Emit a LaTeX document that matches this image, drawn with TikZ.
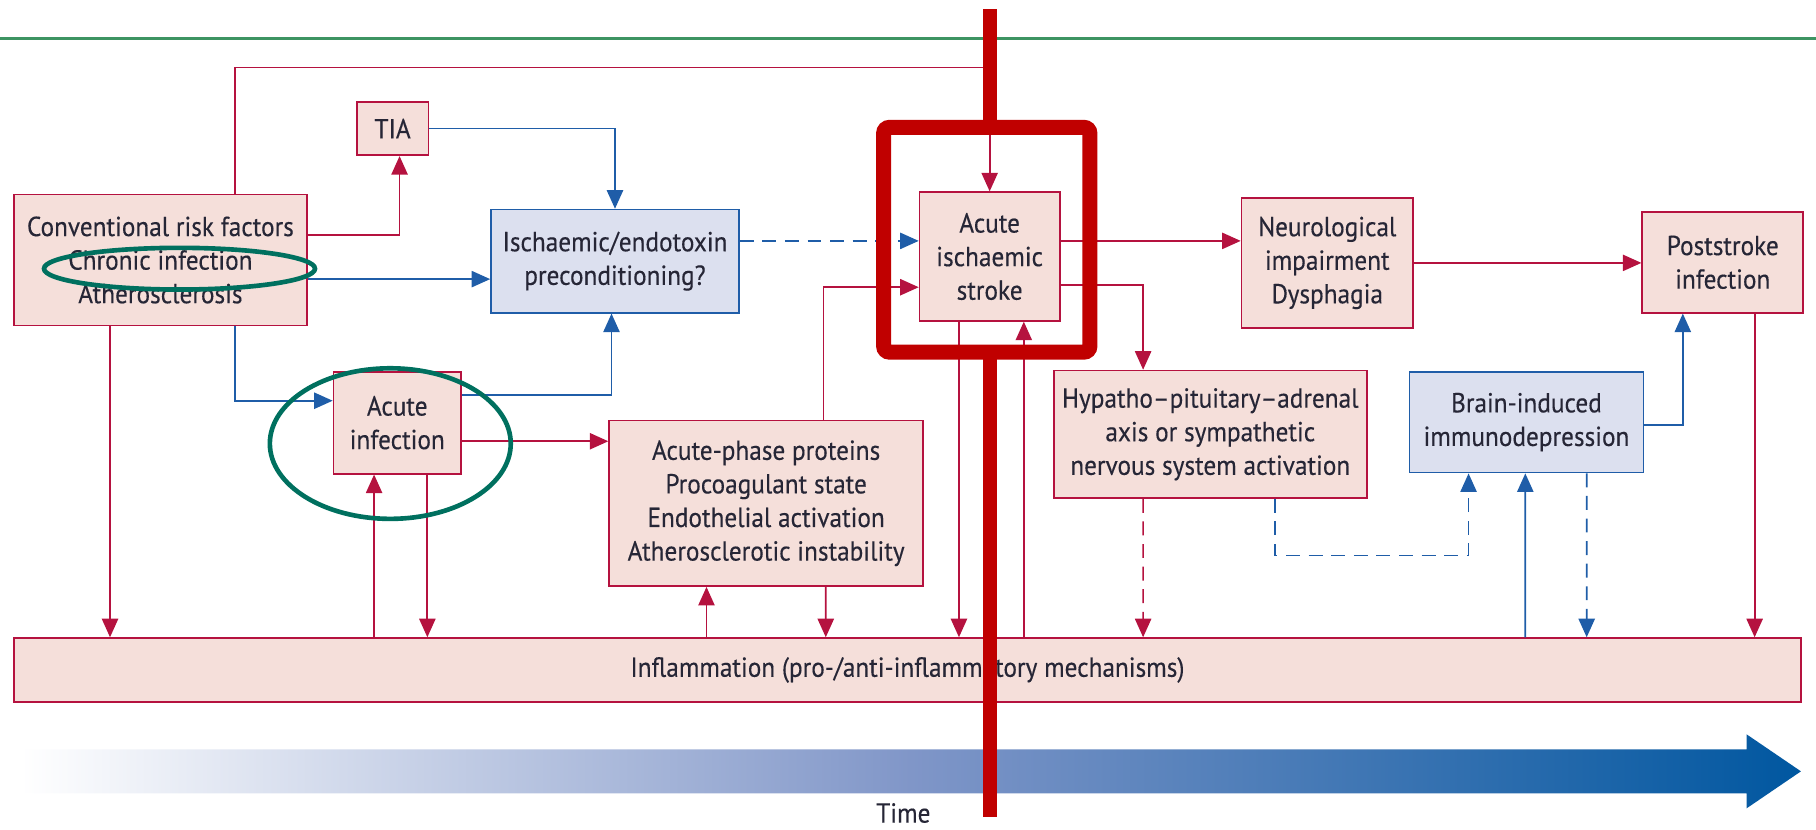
\documentclass[tikz,border=0pt]{standalone}
\usepackage{fontspec}
\setmainfont{PT Sans}[FakeStretch=0.92,FakeBold=0.3]
\usetikzlibrary{arrows.meta,positioning,calc}
\definecolor{crim}{HTML}{B5123F}
\definecolor{rose}{HTML}{F5DFDA}
\definecolor{cobalt}{HTML}{1F5DA8}
\definecolor{lilac}{HTML}{DCE0EF}
\definecolor{ringteal}{HTML}{00705F}
\definecolor{rulegreen}{HTML}{3D9462}
\definecolor{alarm}{HTML}{C00000}
\definecolor{ink}{HTML}{262636}
\definecolor{timeblue}{HTML}{0057A0}
\definecolor{timemid}{HTML}{8096C8}
\newdimen\gu \gu=0.2mm
\tikzset{box/.style={draw=crim,fill=rose,line width=0.3mm,align=center,font=\fontsize{13.5}{16.5}\selectfont,text=ink,inner sep=0pt},bbox/.style={box,draw=cobalt,fill=lilac},flow/.style={-{Triangle[length=3.2mm,width=2.8mm]},line width=0.3mm,draw=crim},bflow/.style={flow,draw=cobalt},dashy/.style={dash pattern=on 2.4mm off 1.5mm},ring/.style={draw=ringteal,line width=0.8mm}}

\begin{document}
\begin{tikzpicture}[x=0.2mm,y=-0.2mm]
\useasboundingbox (0,0) rectangle (1568,716);
\draw[rulegreen,line width=0.45mm] (0,33)--(1568,33);
\node[box,minimum width=253\gu,minimum height=113\gu] (conv) at (138.5,224.5) {Conventional risk factors\\Chronic infection\\Atherosclerosis};
\node[box,minimum width=62\gu,minimum height=46\gu] (tia) at (339,111) {TIA};
\node[bbox,minimum width=214\gu,minimum height=89\gu] (prec) at (531,225.5) {Ischaemic/endotoxin\\preconditioning?};
\node[box,minimum width=110\gu,minimum height=88\gu] (ainf) at (343,365) {Acute\\infection};
\node[box,minimum width=271\gu,minimum height=143\gu] (aphase) at (661.5,434.5) {Acute-phase proteins\\Procoagulant state\\Endothelial activation\\Atherosclerotic instability};
\node[box,minimum width=121\gu,minimum height=111\gu] (stroke) at (854.5,221.5) {Acute\\ischaemic\\stroke};
\node[box,minimum width=148\gu,minimum height=112\gu] (neuro) at (1146,227) {Neurological\\impairment\\Dysphagia};
\node[box,minimum width=139\gu,minimum height=87\gu] (post) at (1487.5,226.5) {Poststroke\\infection};
\node[box,minimum width=270\gu,minimum height=110\gu] (hpa) at (1045,375) {Hypatho–pituitary–adrenal\\axis or sympathetic\\nervous system activation};
\node[bbox,minimum width=202\gu,minimum height=87\gu] (brain) at (1318,364.5) {Brain-induced\\immunodepression};
\node[box,minimum width=1543\gu,minimum height=55\gu] (infl) at (783.5,578.5) {Inflammation (pro-/anti-inflammatory mechanisms)};
\draw[flow] ([yshift=21.5\gu]conv.east) -| ([xshift=6\gu]tia.south);
\draw[bflow] (tia.east) -| (prec.north);
\draw[bflow] ([yshift=-16.5\gu]conv.east) -- ([yshift=-15.5\gu]prec.west);
\draw[bflow] ([xshift=64.5\gu]conv.south) |- ([yshift=19\gu]ainf.west);
\draw[bflow] ([yshift=24\gu]ainf.east) -| ([xshift=-3\gu]prec.south);
\draw[flow] ([yshift=-16\gu]ainf.east) -- ([yshift=53.5\gu]aphase.west);
\draw[flow] ([xshift=-43.5\gu]conv.south) -- ([xshift=-688.5\gu]infl.north);
\draw[flow] ([xshift=-460.5\gu]infl.north) -- ([xshift=-20\gu]ainf.south);
\draw[flow] ([xshift=26\gu]ainf.south) -- ([xshift=-414.5\gu]infl.north);
\draw[flow] ([xshift=-173.5\gu]infl.north) -- ([xshift=-51.5\gu]aphase.south);
\draw[flow] ([xshift=51.5\gu]aphase.south) -- ([xshift=-70.5\gu]infl.north);
\draw[flow] ([xshift=49.5\gu]aphase.north) |- ([yshift=-26.5\gu]stroke.west);
\draw[bflow,dashy] ([yshift=17.5\gu]prec.east) -- ([yshift=13.5\gu]stroke.west);
\draw[flow] ([xshift=64.5\gu]conv.north) -- ++(0,-109) -| (stroke.north);
\draw[flow] ([xshift=-26.5\gu]stroke.south) -- ([xshift=44.5\gu]infl.north);
\draw[flow] ([xshift=100.5\gu]infl.north) -- ([xshift=29.5\gu]stroke.south);
\draw[flow] ([yshift=13.5\gu]stroke.east) -- ([yshift=19\gu]neuro.west);
\draw[flow] ([yshift=-24.5\gu]stroke.east) -| ([xshift=-58\gu]hpa.north);
\draw[flow] (neuro.east) -- (neuro.east -| post.west);
\draw[flow,dashy] ([xshift=-58\gu]hpa.south) -- ([xshift=203.5\gu]infl.north);
\draw[bflow,dashy] ([xshift=56\gu]hpa.south) -- ++(0,49) -| ([xshift=-50\gu]brain.south);
\draw[bflow] ([xshift=533.5\gu]infl.north) -- ([xshift=-1\gu]brain.south);
\draw[bflow,dashy] ([xshift=52\gu]brain.south) -- ([xshift=586.5\gu]infl.north);
\draw[bflow] ([yshift=-2.5\gu]brain.east) -| ([xshift=-34.5\gu]post.south);
\draw[flow] ([xshift=27.5\gu]post.south) -- ([xshift=731.5\gu]infl.north);
\draw[ring] (155,232) ellipse [x radius=117,y radius=18];
\draw[ring] (337,383) ellipse [x radius=104,y radius=65];
\shade[left color=white,right color=timeblue,middle color=timemid] (18,647)--(1508,647)--(1508,634)--(1555,666)--(1508,698)--(1508,685)--(18,685)--cycle;
\node[font=\fontsize{13.5}{16.5}\selectfont,text=ink] (time) at (780,702) {Time};
\draw[alarm,line width=2.6mm,rounded corners=1mm] (763,110) rectangle (941,304);
\draw[alarm,line width=2.4mm] (855,8)--(855,110) (855,304)--(855,705);
\end{tikzpicture}
\end{document}
